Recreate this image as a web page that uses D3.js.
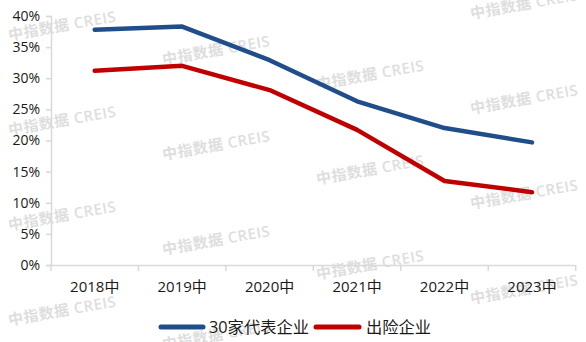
<!DOCTYPE html>
<html>
<head>
<meta charset="utf-8">
<script src="https://cdn.jsdelivr.net/npm/d3@7/dist/d3.min.js"></script>
<style>
  html, body { margin: 0; padding: 0; background: #fff; }
  svg { display: block; }
  text { font-family: "Open Sans", "Noto Sans CJK SC", sans-serif; }
</style>
</head>
<body>
<svg id="chart" width="586" height="342"></svg>
<script>
// Half-year (mid-year) periods
const categories = ["2018中", "2019中", "2020中", "2021中", "2022中", "2023中"];
// Share values per series
const seriesTop30 = [0.378, 0.383, 0.329, 0.263, 0.220, 0.197];
const seriesDefault = [0.312, 0.320, 0.281, 0.217, 0.135, 0.117];
const seriesNames = ["30家代表企业", "出险企业"];
const seriesColors = ["#1f4e8a", "#c00000"];
const yTicks = [0, 0.05, 0.10, 0.15, 0.20, 0.25, 0.30, 0.35, 0.40];
const watermarkText = "中指数据 CREIS";

const svg = d3.select("#chart");
const W = 586, H = 342;
const plot = { left: 51, right: 575.7, top: 16, bottom: 265 };

const x = d3.scaleBand().domain(categories).range([plot.left, plot.right]).padding(0);
const y = d3.scaleLinear().domain([0, 0.4]).range([plot.bottom, plot.top]);

// Background watermark grid
const wm = svg.append("g").attr("class", "watermark");
for (let i = 0; i < 4; i++) {
  for (let k = -1; k <= 3; k++) {
    const cx = 62 + 154 * i;
    const cy = 25 + 24.5 * i + 95 * k;
    if (cy < -20 || cy > H + 20) continue;
    wm.append("text")
      .attr("transform", `translate(${cx},${cy}) rotate(-10)`)
      .attr("text-anchor", "middle")
      .attr("dominant-baseline", "central")
      .attr("font-size", 15)
      .attr("font-weight", 600)
      .attr("letter-spacing", 0.5)
      .attr("fill", "#dedede")
      .text(watermarkText);
  }
}

// Y axis
const yAxis = d3.axisLeft(y)
  .tickValues(yTicks)
  .tickSize(5)
  .tickPadding(6)
  .tickFormat(d3.format(".0%"));
const gy = svg.append("g").attr("transform", `translate(${plot.left},0)`).call(yAxis);
gy.select(".domain").attr("stroke", "#d9d9d9").attr("stroke-width", 1.5);
gy.selectAll(".tick line").attr("stroke", "#d9d9d9").attr("stroke-width", 1.5);
gy.selectAll(".tick text").attr("font-size", 14).attr("fill", "#1a1a1a");

// X axis: labels centred in bands, tick marks on band boundaries
const xAxis = d3.axisBottom(x).tickSize(0).tickPadding(0);
const gx = svg.append("g").attr("transform", `translate(0,${plot.bottom})`).call(xAxis);
gx.select(".domain").attr("stroke", "#d9d9d9").attr("stroke-width", 1.5);
gx.selectAll(".tick text")
  .attr("font-size", 15)
  .attr("fill", "#1a1a1a")
  .attr("dy", null)
  .attr("y", 27);
const boundaries = categories.map(c => x(c)).concat([x.range()[1]]);
gx.selectAll("line.bound")
  .data(boundaries)
  .enter().append("line")
  .attr("class", "bound")
  .attr("x1", d => d).attr("x2", d => d)
  .attr("y1", 0).attr("y2", 6)
  .attr("stroke", "#d9d9d9").attr("stroke-width", 1.5);

// Lines
const line = d3.line()
  .x((d, i) => x(categories[i]) + x.bandwidth() / 2)
  .y(d => y(d));

[seriesTop30, seriesDefault].forEach((s, i) => {
  svg.append("path")
    .datum(s)
    .attr("d", line)
    .attr("fill", "none")
    .attr("stroke", seriesColors[i])
    .attr("stroke-width", 4.5)
    .attr("stroke-linejoin", "round")
    .attr("stroke-linecap", "round");
});

// Legend
const legendItems = [
  { x1: 161, x2: 203, tx: 209 },
  { x1: 316, x2: 359, tx: 366 }
];
const lg = svg.append("g").attr("class", "legend");
legendItems.forEach((it, i) => {
  lg.append("line")
    .attr("x1", it.x1).attr("x2", it.x2)
    .attr("y1", 327).attr("y2", 327)
    .attr("stroke", seriesColors[i])
    .attr("stroke-width", 5)
    .attr("stroke-linecap", "round");
  lg.append("text")
    .attr("x", it.tx).attr("y", 327)
    .attr("dominant-baseline", "central")
    .attr("font-size", 16.3)
    .attr("fill", "#1a1a1a")
    .text(seriesNames[i]);
});
</script>
</body>
</html>
